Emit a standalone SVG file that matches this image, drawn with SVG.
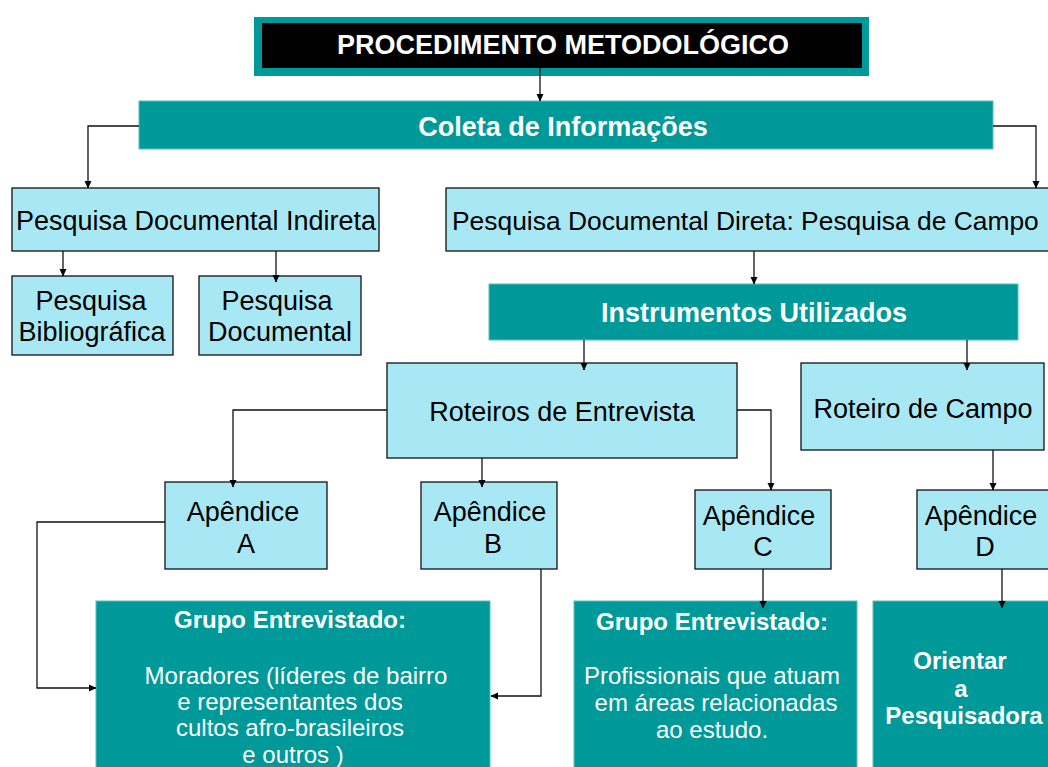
<svg xmlns="http://www.w3.org/2000/svg" width="1048" height="767" viewBox="0 0 1048 767">
<defs>
<style>
.lb{fill:#A8E8F4;stroke:#111;stroke-width:1.3}
.tl{fill:#009999;stroke:#5cbdbd;stroke-width:1}
.t{font-family:"Liberation Sans",Arial,sans-serif;font-size:27px;fill:#000;text-anchor:middle}
.w{font-family:"Liberation Sans",Arial,sans-serif;font-size:27px;font-weight:bold;fill:#fff;text-anchor:middle}
.g{font-family:"Liberation Sans",Arial,sans-serif;font-size:24px;font-weight:bold;fill:#fff;text-anchor:middle}
.b{font-family:"Liberation Sans",Arial,sans-serif;font-size:24px;fill:#fff;text-anchor:middle}
.c{fill:none;stroke:#111;stroke-width:1.3}
</style>
<marker id="ar" markerWidth="8" markerHeight="8" refX="7" refY="4" orient="auto" markerUnits="userSpaceOnUse">
<path d="M0,0.5 L7.5,4 L0,7.5 Z" fill="#000"/>
</marker>
</defs>
<rect width="1048" height="767" fill="#fff"/>

<g id="procedimento">
<rect x="254" y="17" width="615" height="59" fill="#009999"/>
<rect x="262" y="23" width="600" height="45" fill="#000"/>
<text class="w" x="563" y="54">PROCEDIMENTO METODOLÓGICO</text>
</g>

<g id="coleta">
<rect class="tl" x="139" y="101" width="854" height="48"/>
<text class="w" x="563" y="136">Coleta de Informações</text>
</g>

<g id="indireta">
<rect class="lb" x="12" y="188" width="367" height="63"/>
<text class="t" x="196" y="230">Pesquisa Documental Indireta</text>
</g>

<g id="direta">
<rect class="lb" x="446" y="188" width="620" height="63"/>
<text class="t" x="452" y="230" style="text-anchor:start;font-size:26.4px">Pesquisa Documental Direta: Pesquisa de Campo</text>
</g>

<g id="bibliografica">
<rect class="lb" x="12" y="276" width="161" height="79"/>
<text class="t" x="91" y="310">Pesquisa</text>
<text class="t" x="92" y="341">Bibliográfica</text>
</g>

<g id="documental">
<rect class="lb" x="199" y="276" width="162" height="79"/>
<text class="t" x="277" y="310">Pesquisa</text>
<text class="t" x="280" y="341">Documental</text>
</g>

<g id="instrumentos">
<rect class="tl" x="489" y="284" width="529" height="56"/>
<text class="w" x="754" y="322">Instrumentos Utilizados</text>
</g>

<g id="roteiros-entrevista">
<rect class="lb" x="387" y="363" width="350" height="95"/>
<text class="t" x="562" y="421">Roteiros de Entrevista</text>
</g>

<g id="roteiro-campo">
<rect class="lb" x="801" y="363" width="243" height="87"/>
<text class="t" x="923" y="418">Roteiro de Campo</text>
</g>

<g id="apendice-a">
<rect class="lb" x="165" y="482" width="162" height="87"/>
<text class="t" x="243" y="521">Apêndice</text>
<text class="t" x="246" y="553">A</text>
</g>

<g id="apendice-b">
<rect class="lb" x="421" y="482" width="136" height="87"/>
<text class="t" x="490" y="521">Apêndice</text>
<text class="t" x="493" y="553">B</text>
</g>

<g id="apendice-c">
<rect class="lb" x="695" y="490" width="136" height="79"/>
<text class="t" x="759" y="525">Apêndice</text>
<text class="t" x="763" y="556">C</text>
</g>

<g id="apendice-d">
<rect class="lb" x="917" y="490" width="140" height="79"/>
<text class="t" x="981" y="525">Apêndice</text>
<text class="t" x="985" y="556">D</text>
</g>

<g id="grupo-moradores">
<rect class="tl" x="96" y="601" width="394" height="175"/>
<text class="g" x="290" y="628">Grupo Entrevistado:</text>
<text class="b" x="296" y="684">Moradores (líderes de bairro</text>
<text class="b" x="290" y="710">e representantes dos</text>
<text class="b" x="290" y="736">cultos afro-brasileiros</text>
<text class="b" x="293" y="763">e outros )</text>
</g>

<g id="grupo-profissionais">
<rect class="tl" x="574" y="601" width="283" height="175"/>
<text class="g" x="712" y="630">Grupo Entrevistado:</text>
<text class="b" x="712" y="684">Profissionais que atuam</text>
<text class="b" x="716" y="711">em áreas relacionadas</text>
<text class="b" x="712" y="738">ao estudo.</text>
</g>

<g id="orientar">
<rect class="tl" x="873" y="601" width="190" height="175"/>
<text class="g" x="960" y="669">Orientar</text>
<text class="g" x="961" y="697">a</text>
<text class="g" x="964" y="724">Pesquisadora</text>
</g>

<g id="connectors">
<path class="c" d="M540,68 V101" marker-end="url(#ar)"/>
<path class="c" d="M139,126 H88 V188" marker-end="url(#ar)"/>
<path class="c" d="M993,126 H1036 V188" marker-end="url(#ar)"/>
<path class="c" d="M63,251 V276" marker-end="url(#ar)"/>
<path class="c" d="M276,251 V282" marker-end="url(#ar)"/>
<path class="c" d="M754,251 V284" marker-end="url(#ar)"/>
<path class="c" d="M584,340 V370" marker-end="url(#ar)"/>
<path class="c" d="M967,340 V370" marker-end="url(#ar)"/>
<path class="c" d="M387,410 H233 V487" marker-end="url(#ar)"/>
<path class="c" d="M482,458 V487" marker-end="url(#ar)"/>
<path class="c" d="M737,410 H771 V490" marker-end="url(#ar)"/>
<path class="c" d="M993,450 V490" marker-end="url(#ar)"/>
<path class="c" d="M165,522 H37 V688 H96" marker-end="url(#ar)"/>
<path class="c" d="M541,569 V696 H491" marker-end="url(#ar)"/>
<path class="c" d="M763,569 V608" marker-end="url(#ar)"/>
<path class="c" d="M1002,569 V608" marker-end="url(#ar)"/>
</g>
</svg>
